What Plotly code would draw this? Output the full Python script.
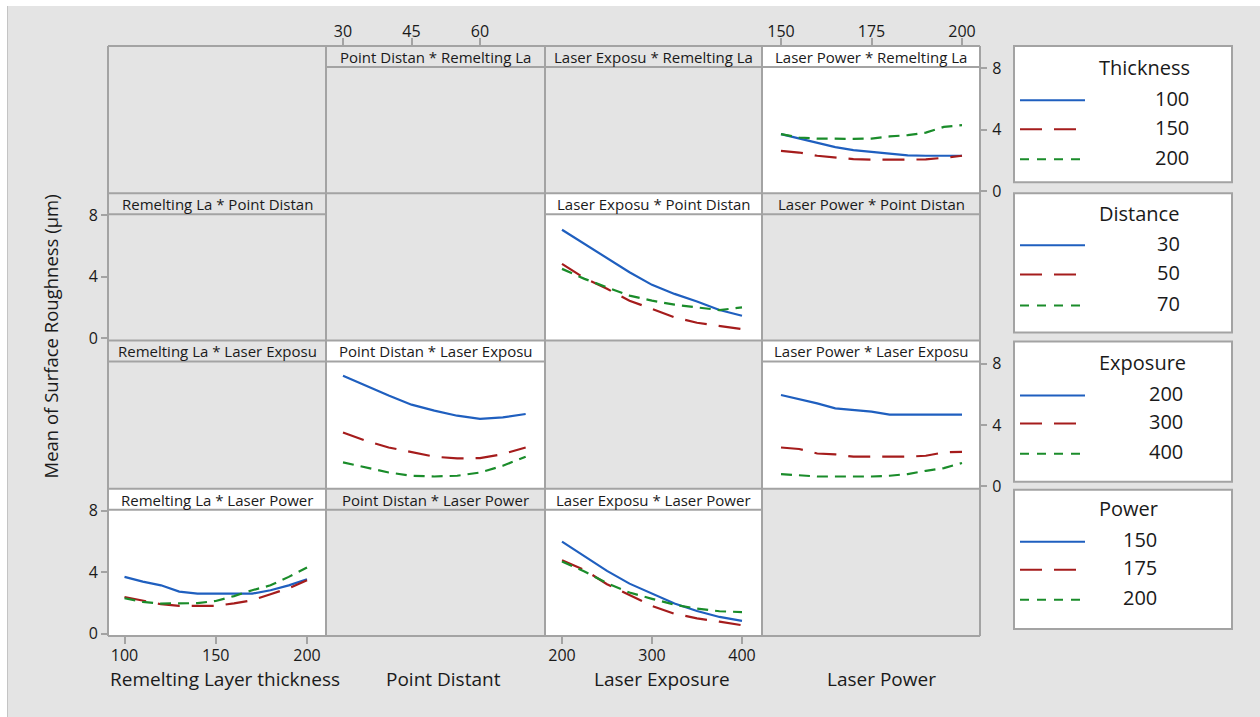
import plotly.graph_objects as go

# ---------------- data ----------------
factor_titles = ["Remelting Layer thickness", "Point Distant", "Laser Exposure", "Laser Power"]
short_names = ["Remelting La", "Point Distan", "Laser Exposu", "Laser Power"]
legend_titles = ["Thickness", "Distance", "Exposure", "Power"]
thickness_levels = ["100", "150", "200"]
distance_levels = ["30", "50", "70"]
exposure_levels = ["200", "300", "400"]
power_levels = ["150", "175", "200"]

tick_thickness = [100, 150, 200]
tick_distance = [30, 45, 60]
tick_exposure = [200, 300, 400]
tick_power = [150, 175, 200]
tick_y = [0, 4, 8]

# x grids
power_x = [150, 155, 160, 165, 170, 175, 180, 185, 190, 195, 200]
exposure_x = [200, 225, 250, 275, 300, 325, 350, 375, 400]
distance_x = [30, 35, 40, 45, 50, 55, 60, 65, 70]
thickness_x = [100, 110, 120, 130, 140, 150, 160, 170, 180, 190, 200]

# Laser Power * Remelting La (lines = thickness)
pw_thick100 = [3.71, 3.42, 3.12, 2.86, 2.67, 2.56, 2.47, 2.32, 2.30, 2.30, 2.30]
pw_thick150 = [2.62, 2.51, 2.30, 2.17, 2.08, 2.04, 2.04, 2.04, 2.06, 2.17, 2.30]
pw_thick200 = [3.71, 3.49, 3.42, 3.40, 3.40, 3.42, 3.56, 3.64, 3.81, 4.18, 4.29]

# Laser Exposu * Point Distan (lines = distance)
ex_dist30 = [7.07, 6.16, 5.22, 4.30, 3.48, 2.89, 2.39, 1.84, 1.47]
ex_dist50 = [4.85, 3.91, 3.22, 2.45, 1.91, 1.36, 1.01, 0.80, 0.60]
ex_dist70 = [4.52, 3.87, 3.32, 2.78, 2.45, 2.19, 2.01, 1.84, 2.01]

# Point Distan * Laser Exposu (lines = exposure)
ds_exp200 = [7.22, 6.57, 5.92, 5.33, 4.94, 4.61, 4.40, 4.50, 4.72]
ds_exp300 = [3.52, 2.98, 2.54, 2.22, 1.94, 1.83, 1.85, 2.11, 2.54]
ds_exp400 = [1.57, 1.24, 0.91, 0.70, 0.65, 0.70, 0.91, 1.35, 1.94]

# Laser Power * Laser Exposu (lines = exposure)
pw_exp200 = [5.96, 5.70, 5.41, 5.09, 4.98, 4.87, 4.68, 4.68, 4.68, 4.68, 4.68]
pw_exp300 = [2.54, 2.44, 2.15, 2.09, 1.94, 1.94, 1.94, 1.94, 2.00, 2.22, 2.26]
pw_exp400 = [0.81, 0.75, 0.65, 0.65, 0.65, 0.65, 0.70, 0.81, 1.02, 1.20, 1.53]

# Remelting La * Laser Power (lines = power)
th_pow150 = [3.70, 3.39, 3.15, 2.74, 2.61, 2.61, 2.61, 2.61, 2.83, 3.15, 3.55]
th_pow175 = [2.39, 2.15, 1.92, 1.81, 1.81, 1.81, 1.98, 2.18, 2.57, 2.96, 3.48]
th_pow200 = [2.31, 2.07, 1.96, 1.96, 1.99, 2.13, 2.45, 2.83, 3.15, 3.70, 4.31]

# Laser Exposu * Laser Power (lines = power)
ex_pow150 = [6.00, 5.07, 4.09, 3.26, 2.63, 1.96, 1.48, 1.09, 0.83]
ex_pow175 = [4.79, 4.15, 3.22, 2.52, 1.81, 1.30, 1.00, 0.78, 0.55]
ex_pow200 = [4.70, 4.05, 3.29, 2.68, 2.27, 1.89, 1.63, 1.46, 1.41]

# ---------------- styling / layout ----------------
W = 1260
REF_H = 717          # reference pixel grid used for all positions
FIG_H = 726          # page height actually captured by the viewer
FONT = "Open Sans"
TXT = "#1a1a1a"
GRID = "#a3a3a3"
BG = "#e4e4e4"
COLORS = ["#1f5fbf", "#a51c1c", "#1a8c2a"]
DASHES = ["solid", "22px,12px", "11px,7px"]
LEG_DASHES = ["solid", "22px,12px", "9px,8px"]

col_edges = [108, 326, 545, 762, 980]
row_edges = [46, 193, 340, 488, 635]
STRIP = 21
PX_PER_UNIT = 15.33
ZERO_OFF = 2.2

col_tick_px = [(100, 124.5, 200, 307), (30, 343, 60, 480), (200, 562, 400, 742), (150, 781, 200, 962)]
col_ticks = [tick_thickness, tick_distance, tick_exposure, tick_power]


def px_x(p):
    return p / W


def px_y(p):
    return 1 - p / REF_H


def col_range(c):
    v0, p0, v1, p1 = col_tick_px[c]
    s = (p1 - p0) / (v1 - v0)
    return [v0 - (p0 - col_edges[c]) / s, v0 + (col_edges[c + 1] - p0) / s]


def row_range(r):
    h = row_edges[r + 1] - row_edges[r]
    return [-ZERO_OFF / PX_PER_UNIT, (h - ZERO_OFF) / PX_PER_UNIT]


panels = {
    (0, 3): (power_x, [pw_thick100, pw_thick150, pw_thick200]),
    (1, 2): (exposure_x, [ex_dist30, ex_dist50, ex_dist70]),
    (2, 1): (distance_x, [ds_exp200, ds_exp300, ds_exp400]),
    (2, 3): (power_x, [pw_exp200, pw_exp300, pw_exp400]),
    (3, 0): (thickness_x, [th_pow150, th_pow175, th_pow200]),
    (3, 2): (exposure_x, [ex_pow150, ex_pow175, ex_pow200]),
}
row_levels = [thickness_levels, distance_levels, exposure_levels, power_levels]

fig = go.Figure()
layout = dict(
    width=W, height=FIG_H, autosize=False,
    margin=dict(l=0, r=0, t=0, b=0, pad=0),
    paper_bgcolor="white", plot_bgcolor="rgba(0,0,0,0)",
    showlegend=False,
    font=dict(family=FONT, color=TXT),
)
shapes = []
annotations = []

shapes.append(dict(type="rect", xref="paper", yref="paper", x0=px_x(7), x1=1, y0=0, y1=px_y(6),
                   fillcolor=BG, line=dict(width=0), layer="below"))
shapes.append(dict(type="line", xref="paper", yref="paper", x0=px_x(7.5), x1=px_x(7.5), y0=0, y1=px_y(6),
                   line=dict(color="#c4c4c4", width=1), layer="below"))

TICKFONT = dict(size=16, color=TXT, family=FONT)

for r in range(4):
    for c in range(4):
        k = r * 4 + c + 1
        xa = "xaxis" if k == 1 else f"xaxis{k}"
        ya = "yaxis" if k == 1 else f"yaxis{k}"
        xs = "x" if k == 1 else f"x{k}"
        ys = "y" if k == 1 else f"y{k}"
        x0, x1 = col_edges[c], col_edges[c + 1]
        y0, y1 = row_edges[r], row_edges[r + 1]
        xdict = dict(domain=[px_x(x0), px_x(x1)], range=col_range(c), anchor=ys,
                     showgrid=False, zeroline=False, showline=False, fixedrange=True,
                     showticklabels=False, ticks="")
        ydict = dict(domain=[px_y(y1), px_y(y0)], range=row_range(r), anchor=xs,
                     showgrid=False, zeroline=False, showline=False, fixedrange=True,
                     showticklabels=False, ticks="")
        has_axis = False
        if (r == 0 and c in (1, 3)) or (r == 3 and c in (0, 2)):
            has_axis = True
            xdict.update(showticklabels=True, ticks="outside", ticklen=7, tickwidth=1.5,
                         tickcolor=GRID, tickmode="array", tickvals=col_ticks[c],
                         ticktext=[str(v) for v in col_ticks[c]],
                         side="top" if r == 0 else "bottom",
                         ticklabelstandoff=-5 if r == 0 else -2,
                         tickfont=TICKFONT)
        if (c == 0 and r in (1, 3)) or (c == 3 and r in (0, 2)):
            has_axis = True
            ydict.update(showticklabels=True, ticks="outside", ticklen=6, tickwidth=1.5,
                         tickcolor=GRID, tickmode="array", tickvals=tick_y,
                         ticktext=[str(v) for v in tick_y],
                         side="left" if c == 0 else "right",
                         ticklabelstandoff=0 if c == 0 else 2,
                         tickfont=TICKFONT)
        layout[xa] = xdict
        layout[ya] = ydict

        if (r, c) in panels:
            shapes.append(dict(type="rect", xref="paper", yref="paper",
                               x0=px_x(x0), x1=px_x(x1), y0=px_y(y1), y1=px_y(y0),
                               fillcolor="white", line=dict(width=0), layer="below"))
            xv, series = panels[(r, c)]
            for i, yv in enumerate(series):
                fig.add_trace(go.Scatter(x=xv, y=yv, xaxis=xs, yaxis=ys, mode="lines",
                                         name=row_levels[r][i],
                                         line=dict(color=COLORS[i], width=2.2, dash=DASHES[i]),
                                         hoverinfo="skip"))
        elif has_axis:
            fig.add_trace(go.Scatter(x=[None], y=[None], xaxis=xs, yaxis=ys, mode="lines",
                                     hoverinfo="skip"))
        if r != c:
            shapes.append(dict(type="line", xref="paper", yref="paper",
                               x0=px_x(x0), x1=px_x(x1), y0=px_y(y0 + STRIP), y1=px_y(y0 + STRIP),
                               line=dict(color=GRID, width=2)))
            annotations.append(dict(xref="paper", yref="paper", x=px_x((x0 + x1) / 2),
                                    y=px_y(y0 + STRIP / 2 + 0.5), showarrow=False,
                                    text=f"{short_names[c]} * {short_names[r]}",
                                    font=dict(size=15, color=TXT, family=FONT),
                                    xanchor="center", yanchor="middle"))

for cx in col_edges:
    shapes.append(dict(type="line", xref="paper", yref="paper", x0=px_x(cx), x1=px_x(cx),
                       y0=px_y(row_edges[0]), y1=px_y(row_edges[-1]), line=dict(color=GRID, width=2)))
for ry in row_edges:
    shapes.append(dict(type="line", xref="paper", yref="paper", x0=px_x(col_edges[0]), x1=px_x(col_edges[-1]),
                       y0=px_y(ry), y1=px_y(ry), line=dict(color=GRID, width=2)))

title_cx = [225, 443, 662, 881]
for c in range(4):
    annotations.append(dict(xref="paper", yref="paper", x=px_x(title_cx[c]), y=px_y(678),
                            showarrow=False, text=factor_titles[c], xanchor="center", yanchor="middle",
                            font=dict(size=19, color=TXT, family=FONT)))
annotations.append(dict(xref="paper", yref="paper", x=px_x(50), y=px_y(336), showarrow=False,
                        text="Mean of Surface Roughness (μm)", textangle=-90,
                        xanchor="center", yanchor="middle", font=dict(size=18.5, color=TXT, family=FONT)))

boxes = [(46, 182), (193, 332), (341, 481), (489, 628)]
title_y = [67, 213, 362, 508]
entry_y = [[98, 127, 157], [243, 272, 303], [393, 421, 451], [539, 567, 597]]
value_cx = [1172, 1168, 1166, 1140]
for b in range(4):
    t, bt = boxes[b]
    shapes.append(dict(type="rect", xref="paper", yref="paper", x0=px_x(1014), x1=px_x(1232),
                       y0=px_y(bt), y1=px_y(t), fillcolor="white", line=dict(color=GRID, width=2)))
    annotations.append(dict(xref="paper", yref="paper", x=px_x(1097), y=px_y(title_y[b]), showarrow=False,
                            text=legend_titles[b], xanchor="left", yanchor="middle",
                            font=dict(size=20, color=TXT, family=FONT)))
    for i in range(3):
        ey = entry_y[b][i]
        shapes.append(dict(type="line", xref="paper", yref="paper", x0=px_x(1020), x1=px_x(1085),
                           y0=px_y(ey + 2), y1=px_y(ey + 2),
                           line=dict(color=COLORS[i], width=2, dash=LEG_DASHES[i])))
        annotations.append(dict(xref="paper", yref="paper", x=px_x(value_cx[b]), y=px_y(ey), showarrow=False,
                                text=row_levels[b][i], xanchor="center", yanchor="middle",
                                font=dict(size=20, color=TXT, family=FONT)))

layout["shapes"] = shapes
layout["annotations"] = annotations
fig.update_layout(**layout)

page_fix = """
var s = document.createElement('style');
s.textContent = 'html,body{margin:0;padding:0;background:#e4e4e4;}';
document.head.appendChild(s);
"""
fig.write_html("out.html", post_script=page_fix)
